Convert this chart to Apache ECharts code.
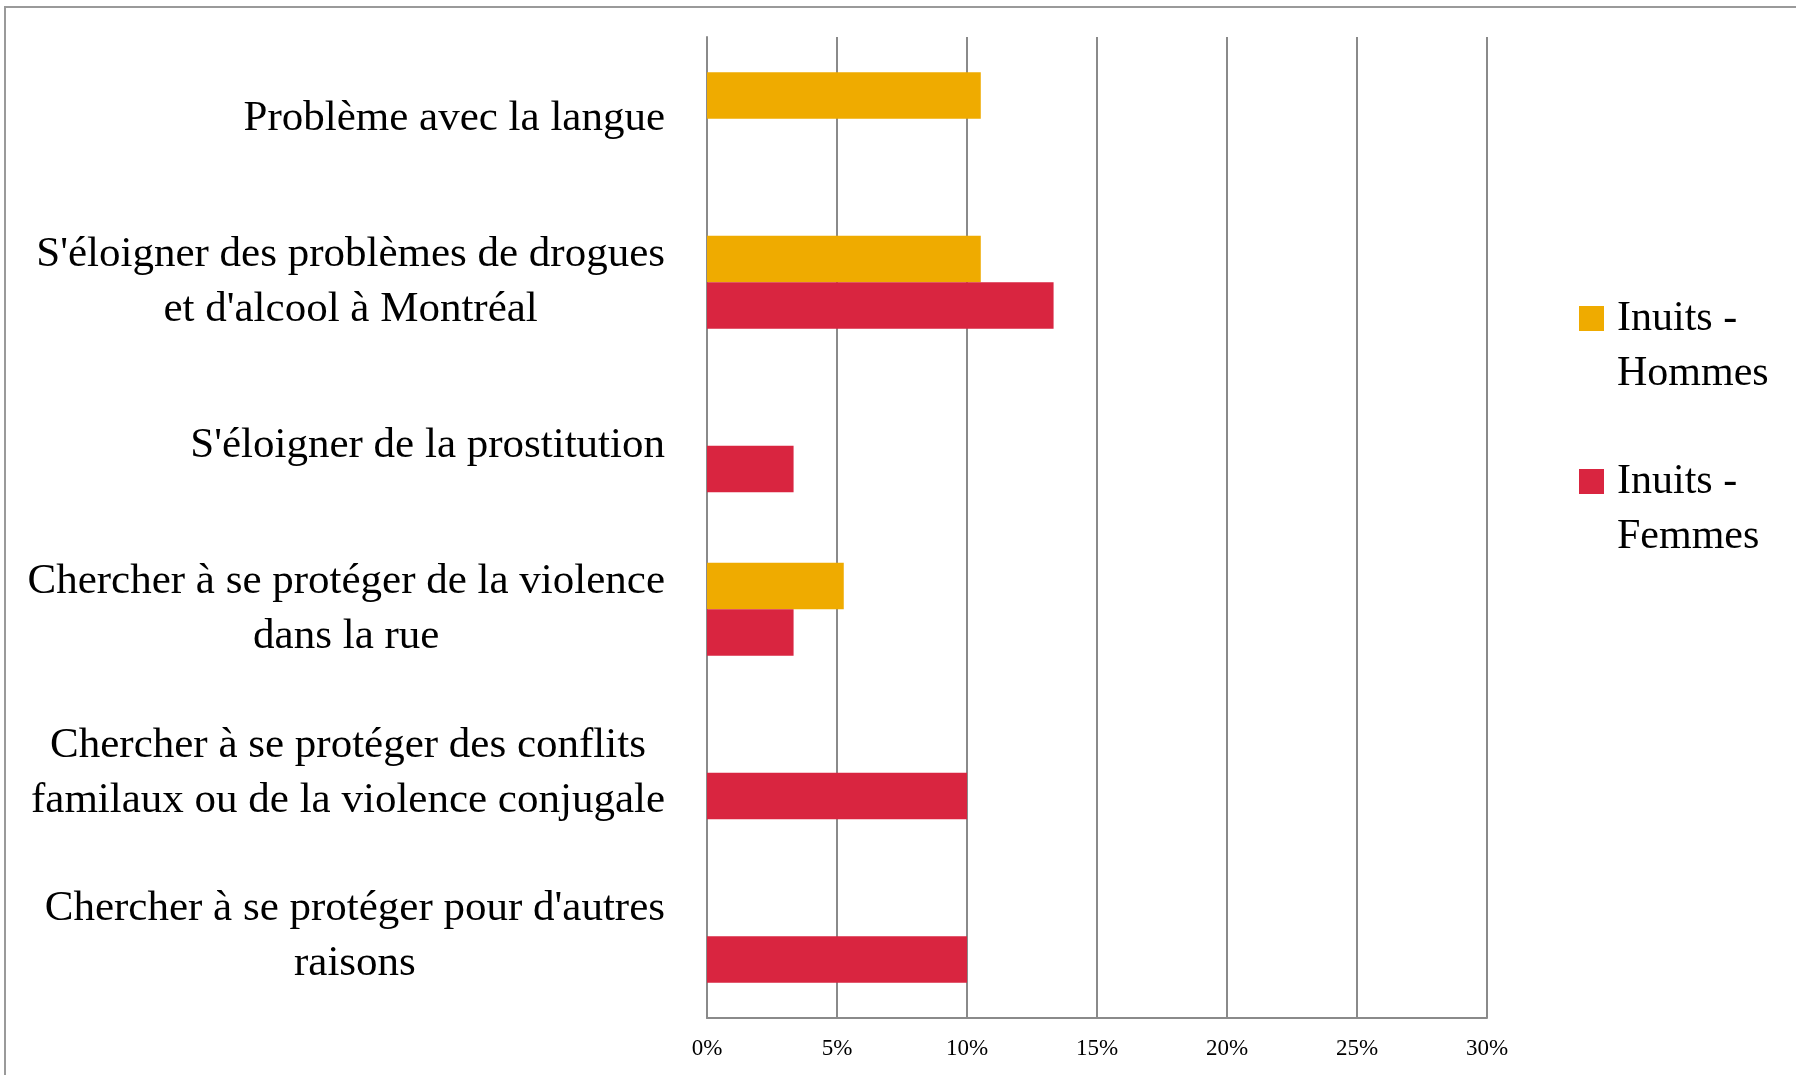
<!DOCTYPE html>
<html>
<head>
<meta charset="utf-8">
<script src="https://cdn.jsdelivr.net/npm/echarts@6/dist/echarts.min.js"></script>
<style>
    html, body { margin: 0; padding: 0; background: #fff; }
    #main { width: 1796px; height: 1075px; }
</style>
</head>
<body>
<div id="main"></div>
<script>
// raisons de venir à Montréal (%)
var categories = [
    "Problème avec la langue",
    "S'éloigner des problèmes de drogues\net d'alcool à Montréal",
    "S'éloigner de la prostitution",
    "Chercher à se protéger de la violence\ndans la rue",
    "Chercher à se protéger des conflits\nfamilaux ou de la violence conjugale",
    "Chercher à se protéger pour d'autres\nraisons"
];
var hommes = [10.53, 10.53, 0, 5.26, 0, 0];
var femmes = [0, 13.33, 3.33, 3.33, 10, 10];
var xTicks = [0, 5, 10, 15, 20, 25, 30];

var serif = "'Liberation Serif', 'DejaVu Serif', serif";
var gris = '#8a8a8a';

var myChart = echarts.init(document.getElementById('main'));

var option = {
    backgroundColor: '#fff',
    animation: false,
    graphic: [
        {
            type: 'rect',
            shape: { x: 5, y: 7, width: 1820, height: 1100 },
            style: { fill: 'none', stroke: '#9a9a9a', lineWidth: 2 }
        }
    ],
    grid: {
        left: 707,
        right: 309,
        top: 37,
        bottom: 57,
        containLabel: false
    },
    legend: {
        orient: 'vertical',
        left: 1579,
        top: 236,
        padding: 0,
        itemGap: -2,
        itemWidth: 25,
        itemHeight: 25,
        icon: 'rect',
        data: ['Inuits - Hommes', 'Inuits - Femmes'],
        formatter: function (name) {
            return '\n' + name.replace(' - ', ' -\n');
        },
        textStyle: {
            fontFamily: serif,
            fontSize: 42,
            lineHeight: 55,
            color: '#000',
            padding: [0, 0, 0, 8]
        }
    },
    xAxis: {
        type: 'value',
        min: xTicks[0],
        max: xTicks[xTicks.length - 1],
        interval: 5,
        axisLine: { show: true, lineStyle: { color: gris, width: 2 } },
        axisTick: { show: false },
        splitLine: { show: true, lineStyle: { color: gris, width: 2 } },
        axisLabel: {
            fontFamily: serif,
            fontSize: 23,
            color: '#000',
            margin: 19,
            formatter: '{value}%'
        }
    },
    yAxis: {
        type: 'category',
        inverse: true,
        data: categories,
        axisLine: { show: true, lineStyle: { color: gris, width: 2 } },
        axisTick: { show: false },
        splitLine: { show: false },
        axisLabel: {
            fontFamily: serif,
            fontSize: 43,
            lineHeight: 55,
            color: '#000',
            margin: 42,
            formatter: function (value) {
                return value.split('\n').map(function (s) {
                    return '{c|' + s + '}';
                }).join('\n');
            },
            rich: {
                c: {
                    align: 'center',
                    fontFamily: serif,
                    fontSize: 43,
                    lineHeight: 55,
                    color: '#000'
                }
            }
        }
    },
    series: [
        {
            name: 'Inuits - Hommes',
            type: 'bar',
            data: hommes,
            barGap: '0%',
            barCategoryGap: '43%',
            itemStyle: { color: '#EFAB00' }
        },
        {
            name: 'Inuits - Femmes',
            type: 'bar',
            data: femmes,
            barGap: '0%',
            barCategoryGap: '43%',
            itemStyle: { color: '#D92540' }
        }
    ]
};

myChart.setOption(option);
</script>
</body>
</html>
